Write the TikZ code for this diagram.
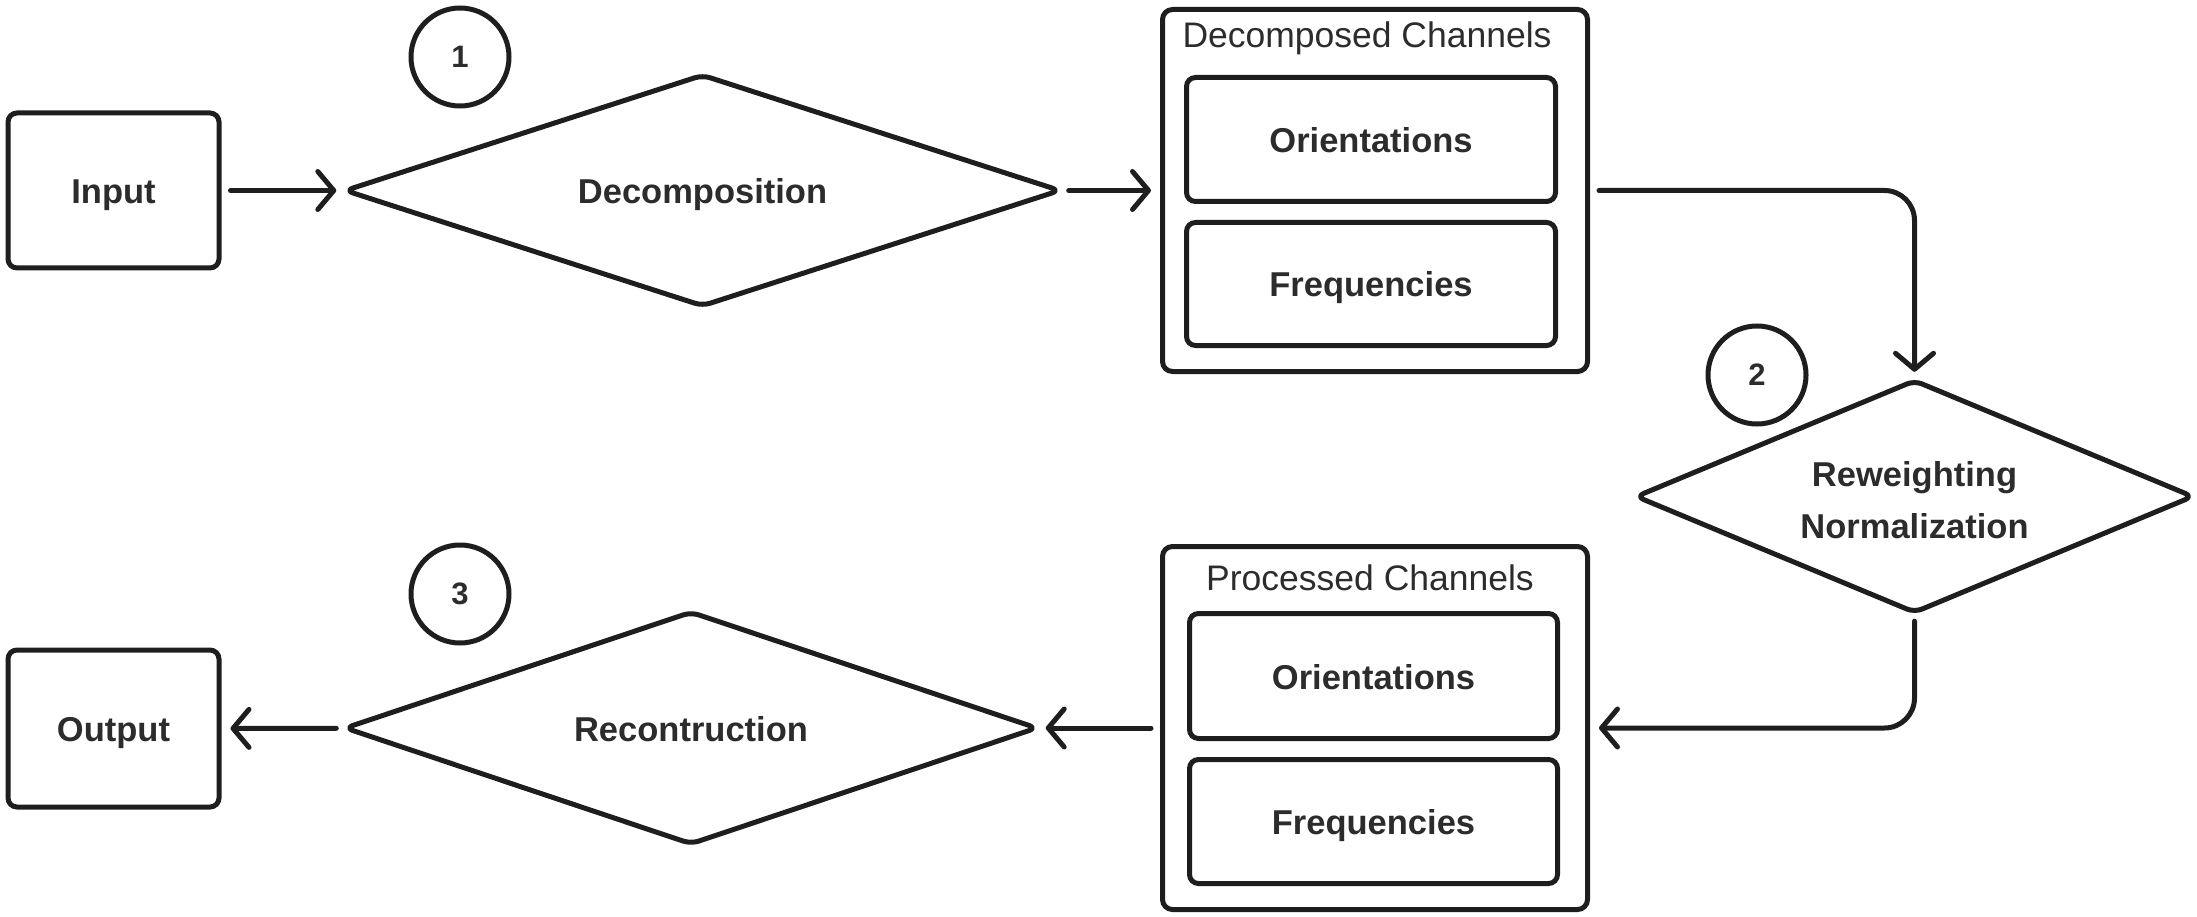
\documentclass[tikz,border=0pt]{standalone}
\usepackage{fontspec}
\setmainfont{Liberation Sans}
\usetikzlibrary{arrows.meta,calc}
\definecolor{ink}{HTML}{1E1E1E}
\definecolor{txt}{HTML}{2C2C2C}
\begin{document}
\begin{tikzpicture}[x=1pt,y=-1pt,
  every node/.style={font=\fontsize{34.5}{40}\selectfont\bfseries, text=txt, inner sep=0pt},
  line/.style={draw=ink, line width=5pt},
  lbl/.style={text height=26pt, text depth=0pt},
  boxnode/.style={line, rounded corners=9pt, lbl},
  frame/.style={line, rounded corners=10pt},
  dia/.style={lbl},
  diapath/.style={line, rounded corners=8pt, line join=round},
  numcircle/.style={circle, line, minimum size=98pt, font=\fontsize{31}{36}\selectfont\bfseries},
  title/.style={font=\fontsize{35.5}{40}\selectfont\mdseries},
  arrow/.style={line, line cap=round, -{Straight Barb[length=16pt,width=38pt,round]}, shorten <=9pt, shorten >=9pt}
]
\useasboundingbox (0,0) rectangle (2197,917);

% top row
\node[boxnode, minimum width=211pt, minimum height=155pt] (in) at (113.5,190.5) {Input};
\node[dia, minimum width=714pt, minimum height=230pt] (dec) at (702.5,190.5) {Decomposition};
\draw[diapath] (dec.west) -- (dec.north) -- (dec.east) -- (dec.south) -- cycle;
\node[numcircle] (c1) at (460,57) {1};

\node[frame, minimum width=425pt, minimum height=362pt] (dc) at (1375,190.5) {};
\node[title] (dct) at (1367,38) {Decomposed Channels};
\node[boxnode, minimum width=369pt, minimum height=124pt] (dco) at (1371,139.5) {Orientations};
\node[boxnode, minimum width=369pt, minimum height=123pt] (dcf) at (1371,284) {Frequencies};

% right diamond
\node[minimum width=556pt, minimum height=231pt] (rw) at (1914.5,496.5) {};
\node[align=center, font=\fontsize{34.5}{52}\selectfont\bfseries] (rwt) at (1914.5,500) {Reweighting\\Normalization};
\draw[diapath] (rw.west) -- (rw.north) -- (rw.east) -- (rw.south) -- cycle;
\node[numcircle] (c2) at (1757,375) {2};

% bottom row
\node[frame, minimum width=425pt, minimum height=363pt] (pc) at (1375,728) {};
\node[title] (pct) at (1370,578) {Processed Channels};
\node[boxnode, minimum width=368pt, minimum height=125pt] (pco) at (1373.5,676) {Orientations};
\node[boxnode, minimum width=368pt, minimum height=124pt] (pcf) at (1373.5,821.5) {Frequencies};

\node[dia, minimum width=691pt, minimum height=231pt] (rec) at (691,728) {Recontruction};
\draw[diapath] (rec.west) -- (rec.north) -- (rec.east) -- (rec.south) -- cycle;
\node[numcircle] (c3) at (460,594) {3};

\node[boxnode, minimum width=211pt, minimum height=157pt] (out) at (113.5,728.5) {Output};

% connectors
\draw[arrow] (in) -- (dec);
\draw[arrow] (dec) -- (dc);
\draw[arrow, rounded corners=30pt] (dc.east) -| (rw.north);
\draw[arrow, rounded corners=30pt] (rw.south) |- (pc.east);
\draw[arrow] (pc) -- (rec);
\draw[arrow] (rec) -- (out);
\end{tikzpicture}
\end{document}
